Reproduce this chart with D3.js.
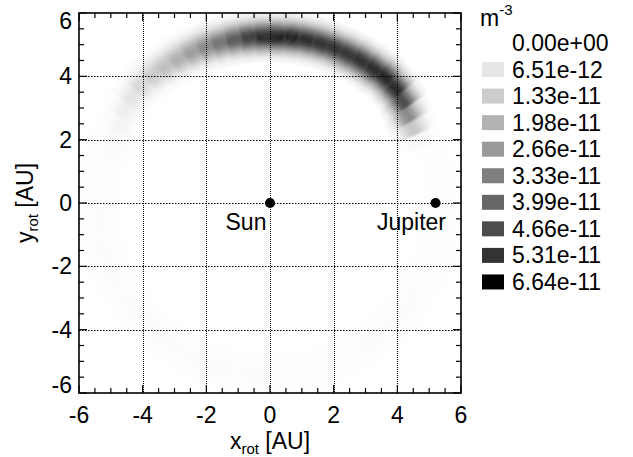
<!DOCTYPE html>
<html>
<head>
<meta charset="utf-8">
<script src="https://cdn.jsdelivr.net/npm/d3@7"></script>
<style>
  body { margin: 0; background: #fff; }
  text { font-family: "Liberation Sans", Arial, Helvetica, sans-serif; fill: #000; }
</style>
</head>
<body>
<div id="chart"></div>
<script>
// density map in the rotating frame (m^-3)
var maxDensity = 6.64e-11;

// legend levels
var legendLevels = [0, 6.51e-12, 1.33e-11, 1.98e-11, 2.66e-11, 3.33e-11, 3.99e-11, 4.66e-11, 5.31e-11, 6.64e-11];
var legendLabels = ["0.00e+00", "6.51e-12", "1.33e-11", "1.98e-11", "2.66e-11", "3.33e-11", "3.99e-11", "4.66e-11", "5.31e-11", "6.64e-11"];

// tick labels
var xTicks = [-6, -4, -2, 0, 2, 4, 6];
var yTicks = [-6, -4, -2, 0, 2, 4, 6];

// arc cells: start angle of each 5 deg sector (deg from +x), peak density (fraction of max), ring radius (AU)
var arcAngle = [20, 25, 30, 35, 40, 45, 50, 55, 60, 65, 70, 75, 80, 85, 90, 95, 100, 105, 110, 115, 120, 125, 130, 135, 140, 145, 150, 155, 160];
var arcPeak = [0.03, 0.22, 0.46, 0.72, 0.86, 0.88, 0.86, 0.84, 0.82, 0.82, 0.83, 0.85, 0.88, 0.88, 0.84, 0.76, 0.65, 0.55, 0.46, 0.38, 0.31, 0.25, 0.2, 0.15, 0.1, 0.065, 0.04, 0.02, 0.01];
var arcRadius = [5.0, 5.05, 5.12, 5.25, 5.33, 5.35, 5.32, 5.3, 5.28, 5.27, 5.26, 5.25, 5.24, 5.23, 5.23, 5.24, 5.25, 5.27, 5.3, 5.33, 5.36, 5.4, 5.45, 5.48, 5.46, 5.4, 5.3, 5.2, 5.1];

// radial profile across the band (offset from ring radius, AU) and relative weight
var radialOffset = [-0.75, -0.65, -0.55, -0.45, -0.35, -0.25, -0.15, -0.05, 0.05, 0.15, 0.25, 0.35, 0.45, 0.55, 0.65, 0.75];
var radialWeight = [0.05, 0.1, 0.2, 0.33, 0.52, 0.72, 0.9, 1, 1, 0.9, 0.72, 0.52, 0.33, 0.2, 0.1, 0.05];

// faint ring all around (30 deg sectors)
var haloAngle = [0, 30, 60, 90, 120, 150, 180, 210, 240, 270, 300, 330];
var haloPeak = [0.006, 0.007, 0.007, 0.007, 0.007, 0.01, 0.011, 0.013, 0.011, 0.009, 0.011, 0.009];
var haloRadius = 5.4;
var haloOffset = [-0.6, -0.4, -0.2, 0, 0.2, 0.4, 0.6];
var haloWeight = [0.3, 0.6, 0.9, 1, 0.9, 0.6, 0.3];

var bodies = [{ name: "Sun", x: 0, y: 0 }, { name: "Jupiter", x: 5.2, y: 0 }];

var svgWidth = 633, svgHeight = 457;
var plot = { left: 79, right: 461, top: 13, bottom: 393 };
var fontSize = 23;

var svg = d3.select("#chart").append("svg")
  .attr("width", svgWidth)
  .attr("height", svgHeight);

var x = d3.scaleLinear().domain([-6, 6]).range([plot.left, plot.right]);
var y = d3.scaleLinear().domain([-6, 6]).range([plot.bottom, plot.top]);
var color = d3.scaleLinear().domain([0, maxDensity]).range(["#ffffff", "#000000"]).clamp(true);

var pxPerAU = x(1) - x(0);

var defs = svg.append("defs");
defs.append("clipPath").attr("id", "clip")
  .append("rect")
  .attr("x", plot.left).attr("y", plot.top)
  .attr("width", plot.right - plot.left).attr("height", plot.bottom - plot.top);
defs.append("filter").attr("id", "soft")
  .attr("x", "-10%").attr("y", "-10%").attr("width", "120%").attr("height", "120%")
  .append("feGaussianBlur").attr("stdDeviation", 1.3);

// build cells
var cells = [];
haloAngle.forEach(function(a, i) {
  haloOffset.forEach(function(o, j) {
    cells.push({ a0: a, a1: a + 30, r: haloRadius + o, dr: 0.2, v: haloPeak[i] * haloWeight[j] * maxDensity });
  });
});
arcAngle.forEach(function(a, i) {
  radialOffset.forEach(function(o, j) {
    cells.push({ a0: a, a1: a + 5, r: arcRadius[i] + o, dr: 0.1, v: arcPeak[i] * radialWeight[j] * maxDensity });
  });
});

var arc = d3.arc()
  .innerRadius(function(d) { return (d.r - d.dr / 2) * pxPerAU; })
  .outerRadius(function(d) { return (d.r + d.dr / 2) * pxPerAU; })
  .startAngle(function(d) { return Math.PI / 2 - d.a1 * Math.PI / 180; })
  .endAngle(function(d) { return Math.PI / 2 - d.a0 * Math.PI / 180; });

var mapGroup = svg.append("g").attr("clip-path", "url(#clip)")
  .append("g").attr("filter", "url(#soft)")
  .attr("transform", "translate(" + x(0) + "," + y(0) + ")");

// black with opacity = density fraction, so overlapping layers darken like a sum
mapGroup.selectAll("path")
  .data(cells).enter().append("path")
  .attr("d", arc)
  .attr("fill", "#000")
  .attr("fill-opacity", function(d) { return d.v / maxDensity; });

// grid
var gridVals = [-4, -2, 0, 2, 4];
svg.append("g").selectAll("line")
  .data(gridVals).enter().append("line")
  .attr("x1", function(d) { return Math.round(x(d)) + 0.5; })
  .attr("x2", function(d) { return Math.round(x(d)) + 0.5; })
  .attr("y1", plot.top).attr("y2", plot.bottom)
  .attr("stroke", "#000").attr("stroke-width", 1)
  .attr("stroke-dasharray", "1,1");
svg.append("g").selectAll("line")
  .data(gridVals).enter().append("line")
  .attr("y1", function(d) { return Math.round(y(d)) + 0.5; })
  .attr("y2", function(d) { return Math.round(y(d)) + 0.5; })
  .attr("x1", plot.left).attr("x2", plot.right)
  .attr("stroke", "#000").attr("stroke-width", 1)
  .attr("stroke-dasharray", "1.5,1.5");

// frame + inward ticks on all sides
var minor = d3.range(-6, 6.001, 0.5);
var tickG = svg.append("g").attr("stroke", "#000").attr("stroke-width", 1.2);
minor.forEach(function(v) {
  var len = (Math.abs(v % 2) < 1e-9) ? 8 : 5;
  tickG.append("line").attr("x1", x(v)).attr("x2", x(v)).attr("y1", plot.bottom).attr("y2", plot.bottom - len);
  tickG.append("line").attr("x1", x(v)).attr("x2", x(v)).attr("y1", plot.top).attr("y2", plot.top + len);
  tickG.append("line").attr("y1", y(v)).attr("y2", y(v)).attr("x1", plot.left).attr("x2", plot.left + len);
  tickG.append("line").attr("y1", y(v)).attr("y2", y(v)).attr("x1", plot.right).attr("x2", plot.right - len);
});
svg.append("rect")
  .attr("x", plot.left).attr("y", plot.top)
  .attr("width", plot.right - plot.left).attr("height", plot.bottom - plot.top)
  .attr("fill", "none").attr("stroke", "#000").attr("stroke-width", 1.6);

// tick labels
svg.append("g").selectAll("text")
  .data(xTicks).enter().append("text")
  .attr("x", function(d) { return x(d); })
  .attr("y", 423)
  .attr("text-anchor", "middle")
  .attr("font-size", fontSize)
  .text(function(d) { return String(d); });
// end labels of the y axis sit inside the frame height
svg.append("g").selectAll("text")
  .data(yTicks).enter().append("text")
  .attr("x", 72)
  .attr("y", function(d) {
    var shift = d === 6 ? 8 : (d === -6 ? -8 : 0);
    return y(d) + 8 + shift;
  })
  .attr("text-anchor", "end")
  .attr("font-size", fontSize)
  .text(function(d) { return String(d); });

// axis titles
var xt = svg.append("text")
  .attr("x", x(0)).attr("y", 449)
  .attr("text-anchor", "middle")
  .attr("font-size", fontSize);
xt.append("tspan").text("x");
xt.append("tspan").attr("font-size", 15).attr("dy", 5).text("rot");
xt.append("tspan").attr("dy", -5).text(" [AU]");

var yt = svg.append("text")
  .attr("transform", "translate(33," + y(0) + ") rotate(-90)")
  .attr("text-anchor", "middle")
  .attr("font-size", fontSize);
yt.append("tspan").text("y");
yt.append("tspan").attr("font-size", 15).attr("dy", 5).text("rot");
yt.append("tspan").attr("dy", -5).text(" [AU]");

// Sun & Jupiter
var bodyG = svg.append("g");
bodyG.selectAll("circle")
  .data(bodies).enter().append("circle")
  .attr("cx", function(d) { return x(d.x); })
  .attr("cy", function(d) { return y(d.y); })
  .attr("r", 5)
  .attr("fill", "#000");
bodyG.selectAll("text")
  .data(bodies).enter().append("text")
  .attr("x", function(d) { return x(d.x) - 24; })
  .attr("y", function(d) { return y(d.y) + 27; })
  .attr("text-anchor", "middle")
  .attr("font-size", fontSize)
  .text(function(d) { return d.name; });

// legend
var unit = svg.append("text").attr("x", 480).attr("y", 26).attr("font-size", fontSize);
unit.append("tspan").text("m");
unit.append("tspan").attr("font-size", 15).attr("dy", -11).text("-3");

var leg = svg.append("g").selectAll("g")
  .data(legendLevels).enter().append("g")
  .attr("transform", function(d, i) { return "translate(0," + (43 + i * 26.55) + ")"; });
leg.append("rect")
  .attr("x", 482).attr("y", -7.5)
  .attr("width", 22).attr("height", 15)
  .attr("fill", function(d) { return color(d); });
leg.append("text")
  .attr("x", 512).attr("y", 8)
  .attr("font-size", fontSize)
  .text(function(d, i) { return legendLabels[i]; });
</script>
</body>
</html>
